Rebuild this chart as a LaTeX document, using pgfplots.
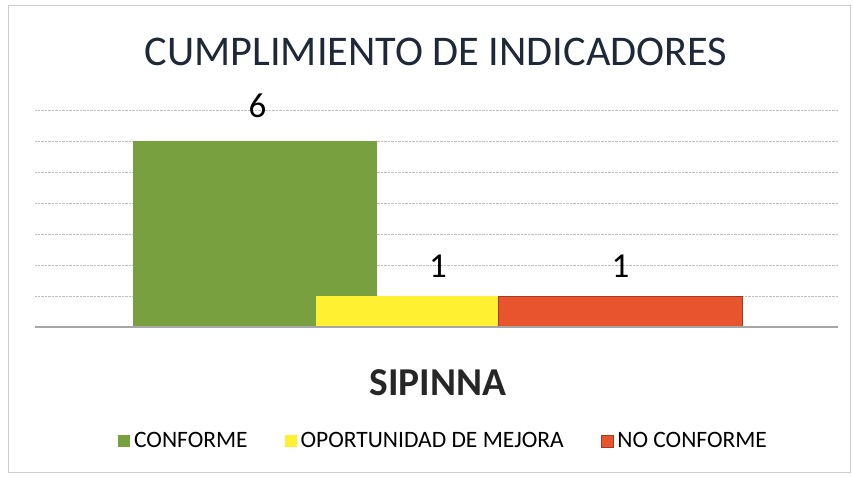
\documentclass[border=0pt]{standalone}
\usepackage{fontspec}
\setmainfont{Carlito}
\usepackage{pgfplots}
\pgfplotsset{compat=1.18}
\definecolor{cgreen}{RGB}{121,160,62}
\definecolor{cyellow}{RGB}{255,240,50}
\definecolor{cred}{RGB}{232,84,46}
\definecolor{ctitle}{RGB}{30,40,55}
\begin{document}
\begin{tikzpicture}[x=1pt,y=1pt]
\useasboundingbox (0,0) rectangle (854,477);
\draw[gray!40, line width=0.8pt] (8,5) rectangle (850,472);
\node[font=\fontsize{42.3}{43}\selectfont, color=ctitle] at (436,425) {CUMPLIMIENTO DE INDICADORES};
\node[font=\fontsize{39.5}{40}\selectfont\bfseries, color=black!85] at (438,94) {SIPINNA};
\begin{axis}[
  at={(35pt,150pt)}, anchor=south west,
  scale only axis, width=803pt, height=217pt,
  xmin=-1.208, xmax=3.192, ymin=0, ymax=7,
  axis line style={draw=none},
  xtick=\empty, ytick={1,2,3,4,5,6,7}, yticklabels={},
  major tick length=0pt,
  ymajorgrids, grid style={densely dotted, gray!50, line width=0.6pt},
  clip=false,
  /pgf/number format/assume math mode=true,
  legend columns=3,
  legend style={draw=none, at={(0.51,-0.525)}, anchor=center,
    font=\fontsize{23.5}{24}\selectfont,
    nodes={inner xsep=4pt},
    /tikz/every even column/.append style={column sep=33pt}},
  legend image code/.code={\fill[#1] (0pt,-6pt) rectangle (12pt,6pt);},
  nodes near coords,
  every node near coord/.append style={font=\fontsize{35}{35}\selectfont, color=black, inner sep=0pt},
]
\addplot[ybar, bar width=1.337, bar shift=0pt, fill=cgreen, draw=none,
  every node near coord/.append style={xshift=2pt, yshift=23pt}] coordinates {(0,6)};
\addlegendentry{CONFORME}
\addplot[ybar, bar width=1.337, bar shift=0pt, fill=cyellow, draw=none,
  every node near coord/.append style={yshift=18pt}] coordinates {(1,1)};
\addlegendentry{OPORTUNIDAD DE MEJORA}
\addplot[ybar, bar width=1.337, bar shift=0pt, fill=cred, draw=cred!70!black, line width=0.6pt,
  every node near coord/.append style={yshift=18pt}] coordinates {(2,1)};
\addlegendentry{NO CONFORME}
\draw[gray!70, line width=2.5pt] (axis cs:-1.208,0) -- (axis cs:3.192,0);
\end{axis}
\end{tikzpicture}
\end{document}
